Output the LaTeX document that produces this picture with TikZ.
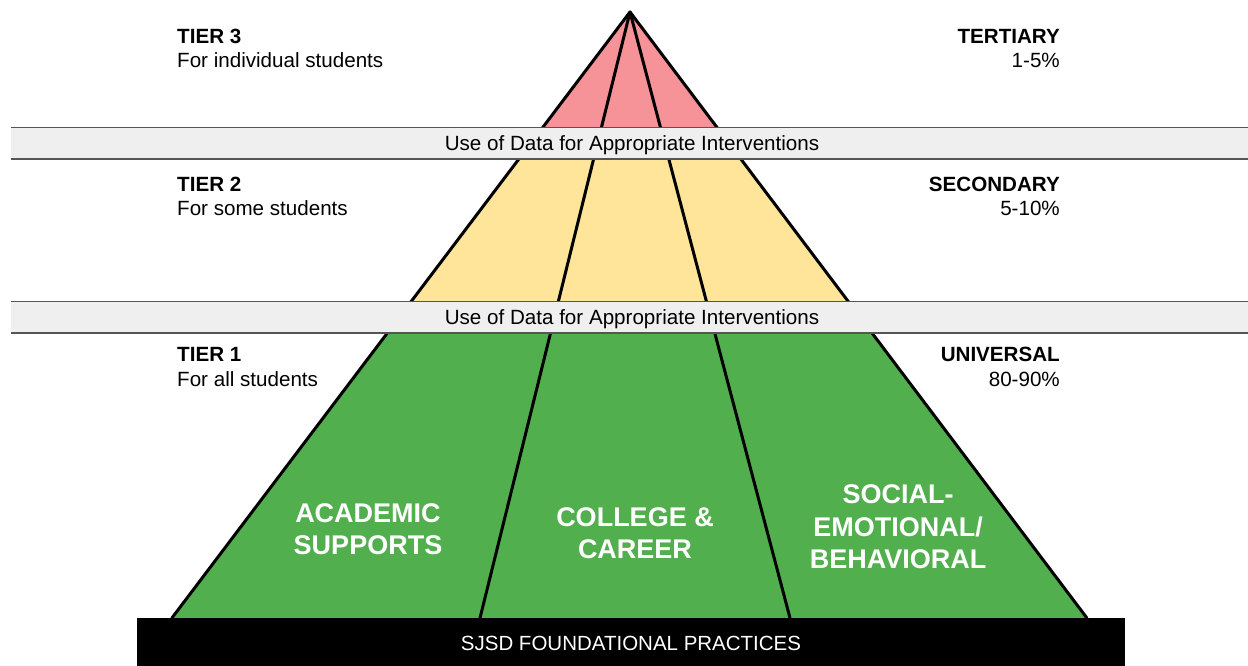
\documentclass[tikz,border=0pt]{standalone}
\usepackage{fontspec}
\setmainfont{Liberation Sans}
\definecolor{tierred}{HTML}{F59399}
\definecolor{tieryellow}{HTML}{FFE599}
\definecolor{tiergreen}{HTML}{52AF4E}
\definecolor{bandgray}{HTML}{EFEFEF}
\definecolor{bandline}{HTML}{555555}
\begin{document}
\begin{tikzpicture}[x=1pt,y=-1pt,
  pyrline/.style={line width=3pt, line cap=round},
  bandbox/.style={fill=bandgray},
  bandedge/.style={draw=bandline, line width=1.6pt},
  bandtext/.style={font=\fontsize{20.6}{24}\selectfont, anchor=base, inner sep=0pt},
  tierhead/.style={font=\bfseries\fontsize{20.6}{24}\selectfont, inner sep=0pt},
  tiersub/.style={font=\fontsize{20.6}{24}\selectfont, inner sep=0pt},
  biglabel/.style={font=\bfseries\fontsize{27}{32.5}\selectfont, text=white, align=center, inner sep=0pt},
]
\useasboundingbox (0,0) rectangle (1248,666);
\fill[white] (0,0) rectangle (1248,666);
% key points
\coordinate (apex) at (630,12);
\coordinate (bl) at (171.9,618);
\coordinate (il) at (480,618);
\coordinate (ir) at (790,618);
\coordinate (br) at (1086.9,618);
% tier fills
\begin{scope}
  \clip (0,0) rectangle (1248,143);
  \fill[tierred] (apex) -- (bl) -- (br) -- cycle;
\end{scope}
\begin{scope}
  \clip (0,143) rectangle (1248,317);
  \fill[tieryellow] (apex) -- (bl) -- (br) -- cycle;
\end{scope}
\begin{scope}
  \clip (0,317) rectangle (1248,618);
  \fill[tiergreen] (apex) -- (bl) -- (br) -- cycle;
\end{scope}
% pyramid lines
\draw[pyrline] (apex) -- (bl);
\draw[pyrline] (apex) -- (il);
\draw[pyrline] (apex) -- (ir);
\draw[pyrline] (apex) -- (br);
% bands
\fill[bandbox] (11,127.5) rectangle (1248,159);
\draw[bandedge] (11,127.5) -- (1248,127.5);
\draw[bandedge] (11,159) -- (1248,159);
\fill[bandbox] (11,301.5) rectangle (1248,333);
\draw[bandedge] (11,301.5) -- (1248,301.5);
\draw[bandedge] (11,333) -- (1248,333);
\node[bandtext] (band1) at (632,150.5) {Use of Data for Appropriate Interventions};
\node[bandtext] (band2) at (632,324.5) {Use of Data for Appropriate Interventions};
% foundation bar
\fill[black] (137,618) rectangle (1125,666);
\node[font=\fontsize{20.5}{24}\selectfont, text=white, anchor=base, inner sep=0pt] (found) at (631,650.5) {SJSD FOUNDATIONAL PRACTICES};
% left tier labels
\node[tierhead, anchor=base west] (t3) at (177,43.5) {TIER 3};
\node[tiersub, anchor=base west] (t3s) at (177,68) {For individual students};
\node[tierhead, anchor=base west] (t2) at (177,191.5) {TIER 2};
\node[tiersub, anchor=base west] (t2s) at (177,215.5) {For some students};
\node[tierhead, anchor=base west] (t1) at (177,361.5) {TIER 1};
\node[tiersub, anchor=base west] (t1s) at (177,386) {For all students};
% right tier labels
\node[tierhead, anchor=base east] (r3) at (1060,43.5) {TERTIARY};
\node[tiersub, anchor=base east] (r3s) at (1060,68) {1-5\%};
\node[tierhead, anchor=base east] (r2) at (1060,191.5) {SECONDARY};
\node[tiersub, anchor=base east] (r2s) at (1060,215.5) {5-10\%};
\node[tierhead, anchor=base east] (r1) at (1060,361.5) {UNIVERSAL};
\node[tiersub, anchor=base east] (r1s) at (1060,386) {80-90\%};
% big labels
\node[biglabel] (acad) at (368,529) {ACADEMIC\\SUPPORTS};
\node[biglabel] (coll) at (635,533) {COLLEGE \&\\CAREER};
\node[biglabel] (soc) at (898,527) {SOCIAL-\\EMOTIONAL/\\BEHAVIORAL};
\end{tikzpicture}
\end{document}
